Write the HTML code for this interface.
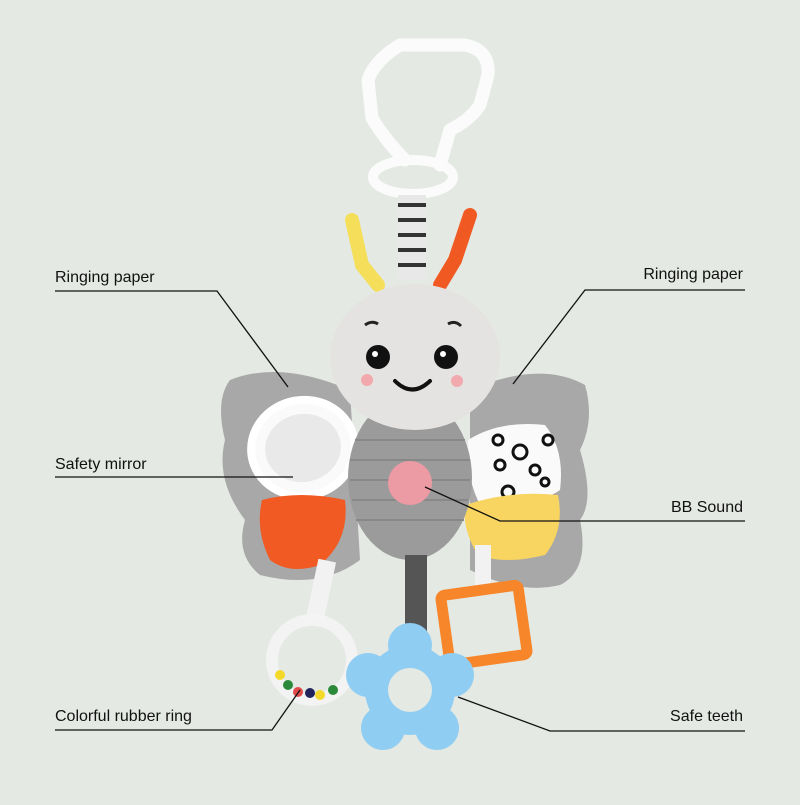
<!DOCTYPE html>
<html><head><style>
body{margin:0;width:800px;height:800px;background:#e4e9e3;overflow:hidden;font-family:"Liberation Sans",sans-serif}
</style></head><body>
<svg width="800" height="800" viewBox="0 0 800 800" xmlns="http://www.w3.org/2000/svg">
<rect width="800" height="800" fill="#e4e9e3"/>
<!-- hook -->
<path d="M400 45 L465 45 Q490 50 488 75 L480 105 Q470 120 450 130 L440 165" fill="none" stroke="#fbfbfb" stroke-width="13" stroke-linejoin="round" stroke-linecap="round"/>
<path d="M400 45 Q375 60 368 80 L372 118 Q385 140 405 160" fill="none" stroke="#fbfbfb" stroke-width="13" stroke-linejoin="round" stroke-linecap="round"/>
<ellipse cx="413" cy="177" rx="40" ry="17" fill="none" stroke="#fbfbfb" stroke-width="10"/>
<!-- strap -->
<rect x="398" y="195" width="28" height="85" fill="#e8e8e8"/>
<g stroke="#333" stroke-width="4"><line x1="398" y1="205" x2="426" y2="205"/><line x1="398" y1="220" x2="426" y2="220"/><line x1="398" y1="235" x2="426" y2="235"/><line x1="398" y1="250" x2="426" y2="250"/><line x1="398" y1="265" x2="426" y2="265"/></g>
<!-- antennae -->
<path d="M352 220 L362 265 L378 285" stroke="#f5df5a" stroke-width="14" fill="none" stroke-linecap="round"/>
<path d="M470 215 L455 260 L440 285" stroke="#f05a22" stroke-width="14" fill="none" stroke-linecap="round"/>
<!-- wings -->
<path d="M230 380 Q280 360 350 390 L360 560 Q320 590 260 575 Q235 555 245 520 Q215 480 225 440 Q215 400 230 380Z" fill="#a8a8a8"/>
<path d="M470 390 Q540 360 585 385 Q595 420 580 450 Q595 500 580 520 Q590 570 560 585 Q520 595 470 570Z" fill="#a8a8a8"/>
<!-- mirror -->
<ellipse cx="303" cy="448" rx="52" ry="48" fill="#fafafa" stroke="#fff" stroke-width="8" transform="rotate(-10 303 448)"/>
<ellipse cx="303" cy="448" rx="38" ry="34" fill="#e9e9e9" transform="rotate(-10 303 448)"/>
<path d="M262 500 Q300 490 345 500 Q350 540 320 565 Q290 575 270 560 Q255 530 262 500Z" fill="#f15a22"/>
<!-- right patches -->
<path d="M468 440 Q500 420 545 425 Q565 450 560 490 Q540 505 480 505 Q465 475 468 440Z" fill="#fafafa"/>
<g fill="none" stroke="#111" stroke-width="3"><circle cx="498" cy="440" r="5"/><circle cx="520" cy="452" r="7"/><circle cx="548" cy="440" r="5"/><circle cx="535" cy="470" r="5"/><circle cx="500" cy="465" r="5"/><circle cx="508" cy="492" r="6"/><circle cx="545" cy="482" r="4"/></g>
<path d="M465 505 Q510 490 558 495 Q565 530 545 555 Q505 565 478 555 Q462 530 465 505Z" fill="#f7d560"/>
<!-- body -->
<ellipse cx="410" cy="478" rx="62" ry="82" fill="#9b9b9b"/>
<g stroke="#888" stroke-width="2"><line x1="355" y1="440" x2="465" y2="440"/><line x1="350" y1="460" x2="470" y2="460"/><line x1="350" y1="480" x2="470" y2="480"/><line x1="352" y1="500" x2="468" y2="500"/><line x1="356" y1="520" x2="464" y2="520"/></g>
<circle cx="410" cy="483" r="22" fill="#ec9aa3"/>
<!-- head -->
<ellipse cx="415" cy="357" rx="85" ry="73" fill="#e5e3e1"/>
<circle cx="378" cy="357" r="12" fill="#111"/><circle cx="446" cy="357" r="12" fill="#111"/>
<circle cx="375" cy="354" r="3" fill="#fff"/><circle cx="443" cy="354" r="3" fill="#fff"/>
<circle cx="367" cy="380" r="6" fill="#f2a9ad"/><circle cx="457" cy="381" r="6" fill="#f2a9ad"/>
<path d="M395 381 Q412 398 430 381" stroke="#111" stroke-width="4" fill="none" stroke-linecap="round"/>
<path d="M365 325 Q372 320 378 324" stroke="#222" stroke-width="3" fill="none"/><path d="M448 324 Q455 320 461 326" stroke="#222" stroke-width="3" fill="none"/>
<!-- straps below -->
<rect x="312" y="560" width="18" height="60" fill="#f2f2f2" transform="rotate(12 321 590)"/>
<rect x="405" y="555" width="22" height="100" fill="#555"/>
<rect x="475" y="545" width="16" height="50" fill="#f2f2f2"/>
<!-- orange square -->
<rect x="445" y="590" width="78" height="70" rx="4" fill="none" stroke="#f7862a" stroke-width="11" transform="rotate(-8 484 625)"/>
<!-- clear ring -->
<circle cx="312" cy="660" r="40" fill="none" stroke="#f4f4f4" stroke-width="12" opacity="0.9"/>
<g><circle cx="280" cy="675" r="5" fill="#f4d92a"/><circle cx="288" cy="685" r="5" fill="#2a8a3a"/><circle cx="298" cy="692" r="5" fill="#e24a4a"/><circle cx="310" cy="693" r="5" fill="#22235a"/><circle cx="320" cy="695" r="5" fill="#f4d92a"/><circle cx="333" cy="690" r="5" fill="#2a8a3a"/></g>
<!-- blue flower -->
<g fill="#8fcdf3">
<circle cx="410" cy="690" r="45"/>
<circle cx="410" cy="645" r="22"/><circle cx="452" cy="675" r="22"/><circle cx="437" cy="728" r="22"/><circle cx="383" cy="728" r="22"/><circle cx="368" cy="675" r="22"/>
</g>
<circle cx="410" cy="690" r="22" fill="#e4e9e3"/>
<!-- leader lines -->
<g stroke="#111" stroke-width="1.3" fill="none">
<polyline points="55,291 217,291 288,387"/>
<polyline points="745,290 585,290 513,384"/>
<polyline points="55,477 293,477"/>
<polyline points="745,521 500,521 425,487"/>
<polyline points="55,730 272,730 300,690"/>
<polyline points="745,731 550,731 458,697"/>
</g>
<g font-family="Liberation Sans, sans-serif" font-size="16" fill="#111">
<text x="55" y="282">Ringing paper</text>
<text x="743" y="279" text-anchor="end">Ringing paper</text>
<text x="55" y="469">Safety mirror</text>
<text x="743" y="512" text-anchor="end">BB Sound</text>
<text x="55" y="721">Colorful rubber ring</text>
<text x="743" y="721" text-anchor="end">Safe teeth</text>
</g>
</svg>
</body></html>
